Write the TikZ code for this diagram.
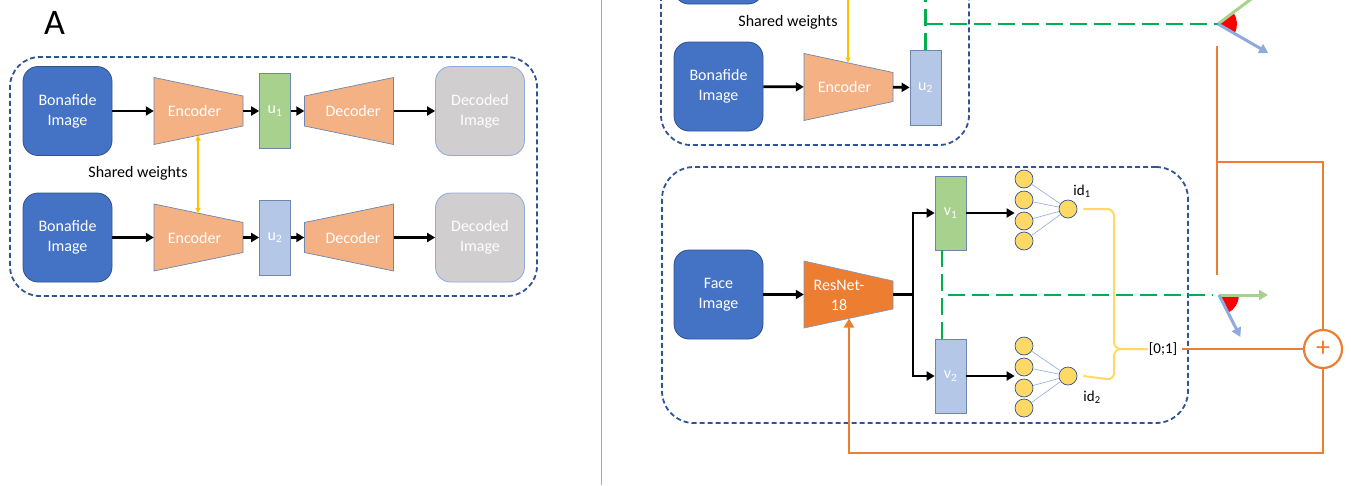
\documentclass[tikz,border=0pt]{standalone}
\usepackage{fontspec}
\setmainfont{Carlito}
\usetikzlibrary{arrows.meta,calc}
\definecolor{dblue}{HTML}{4472C4}
\definecolor{bord}{HTML}{2F528F}
\definecolor{dashb}{HTML}{2F5597}
\definecolor{lorange}{HTML}{F4B183}
\definecolor{orng}{HTML}{ED7D31}
\definecolor{lgreen}{HTML}{A9D18E}
\definecolor{lblue}{HTML}{B4C7E7}
\definecolor{mblue}{HTML}{8FAADC}
\definecolor{gry}{HTML}{D0CECE}
\definecolor{yel}{HTML}{FFC000}
\definecolor{lyel}{HTML}{FFD966}
\definecolor{grn}{HTML}{00B050}
\newcommand\trapR[6]{% name, center, fill, inset, text, text shift (tall left)
  \path[trapline,fill=#3] ($#2+(-44.5,-33.5)$) -- ($#2+(44.5,-33.5+#4)$) -- ($#2+(44.5,33.5-#4)$) -- ($#2+(-44.5,33.5)$) -- cycle;
  \node[trapnode] (#1) at #2 {};
  \node[trapnode,minimum width=0pt,minimum height=0pt] at ($#2+(#6,0)$) {#5};}
\newcommand\trapL[6]{% tall right
  \path[trapline,fill=#3] ($#2+(-44.5,-33.5+#4)$) -- ($#2+(44.5,-33.5)$) -- ($#2+(44.5,33.5)$) -- ($#2+(-44.5,33.5-#4)$) -- cycle;
  \node[trapnode] (#1) at #2 {};
  \node[trapnode,minimum width=0pt,minimum height=0pt] at ($#2+(#6,0)$) {#5};}
\begin{document}
\begin{tikzpicture}[x=1pt,y=-1pt,
  txt/.style={font=\fontsize{16}{20}\selectfont},
  imgbox/.style={txt,draw=bord,line width=0.8pt,fill=dblue,rounded corners=15pt,minimum width=89pt,minimum height=89pt,text=white,align=center,inner sep=0pt},
  decbox/.style={imgbox,fill=gry,draw=mblue},
  vecbox/.style={txt,draw=bord!70,line width=0.7pt,minimum width=31pt,minimum height=75pt,inner sep=0pt,text=white},
  trapnode/.style={txt,minimum width=89pt,minimum height=67pt,inner sep=0pt,text=white,align=center},
  trapline/.style={draw=bord!70,line width=0.7pt},
  blkarrow/.style={draw=black,line width=2.8pt,-{Triangle[length=8pt,width=9pt]}},
  blkline/.style={draw=black,line width=2.8pt},
  dashbox/.style={draw=dashb,line width=1.8pt,dash pattern=on 5pt off 3pt,rounded corners=30pt,inner sep=0pt},
  neuron/.style={circle,draw=bord,fill=lyel,line width=0.7pt,minimum size=18pt,inner sep=0pt},
  yelarrow/.style={draw=yel,line width=1.3pt},
  gdash/.style={draw=grn,line width=2.5pt,dash pattern=on 17pt off 7pt},
  orl/.style={draw=orng,line width=2.8pt},
  lab/.style={font=\fontsize{15}{18}\selectfont,inner sep=1pt}
]
\useasboundingbox (0,0) rectangle (1351,485);
\clip (0,0) rectangle (1351,485);

% ---------------- Panel A ----------------
\node (lblA) at (54.5,22.5) {\fontsize{36}{36}\selectfont A};
\node[dashbox,minimum width=527pt,minimum height=239pt] (boxA) at (273.5,176.5) {};

\node[imgbox] (bon1) at (67.5,111) {Bonafide\\Image};
\trapR{enc1}{(198.5,111)}{lorange}{18.5}{Encoder}{-4}
\node[vecbox,fill=lgreen] (u1) at (275,111) {u\textsubscript{1}};
\trapL{dec1}{(349,111)}{lorange}{18.5}{Decoder}{4}
\node[decbox] (decd1) at (480,111) {Decoded\\Image};

\node[imgbox] (bon2) at (67.5,237.5) {Bonafide\\Image};
\trapR{enc2}{(198.5,237.5)}{lorange}{18.5}{Encoder}{-4}
\node[vecbox,fill=lblue] (u2) at (275,237.5) {u\textsubscript{2}};
\trapL{dec2}{(349,237.5)}{lorange}{18.5}{Decoder}{4}
\node[decbox] (decd2) at (480,237.5) {Decoded\\Image};

\foreach \a/\b in {bon1/enc1,enc1/u1,u1/dec1,dec1/decd1,bon2/enc2,enc2/u2,u2/dec2,dec2/decd2}
  \draw[blkarrow] (\a) -- (\b);

\coordinate (sw1) at (198,135.5);
\coordinate (sw2) at (198,213);
\draw[yelarrow,{Triangle[length=5pt,width=5pt]}-{Triangle[length=5pt,width=5pt]}] (sw1) -- (sw2);
\node[txt,text=black] (swA) at (138,173) {Shared weights};

% divider
\coordinate (divT) at (601.5,0);
\coordinate (divB) at (601.5,485);
\draw[mblue,line width=1pt] (divT) -- (divB);

% ---------------- Panel B top (cut) ----------------
\node[dashbox,minimum width=308pt,minimum height=300pt] (boxB) at (815,-5) {};
\node[imgbox] (bon0) at (718.5,-40.5) {};
\node[imgbox] (bon3) at (718.5,86.5) {Bonafide\\Image};
\trapR{enc3}{(848.5,87)}{lorange}{19}{Encoder}{-4}
\node[vecbox,fill=lblue] (u3) at (925.5,87.5) {u\textsubscript{2}};
\draw[blkarrow] (bon3) -- (enc3);
\draw[blkarrow] (enc3) -- (u3);
\node[txt] (swB) at (788,22) {Shared weights};
\coordinate (ywT) at (848,-10);
\coordinate (ywB) at (848,62.5);
\draw[yelarrow,-{Triangle[length=5pt,width=5pt]}] (ywT) -- (ywB);

\coordinate (gTop) at (925.5,-10);
\coordinate (gJ) at (925.5,24);
\coordinate (V1) at (1218,24);
\draw[gdash] (u3.north) -- (gTop);
\draw[gdash] (gJ) -- (V1);
\fill[red] (V1) -- ++(-30:19pt) arc[start angle=-30,end angle=37,radius=19pt] -- cycle;
\draw[lgreen,line width=3pt] (V1) -- ++(37:60pt) coordinate (gEnd1);
\draw[mblue,line width=3pt,-{Triangle[length=9pt,width=10pt]}] (V1) -- ++(-30:58pt) coordinate (bEnd1);

% ---------------- Panel B bottom ----------------
\node[dashbox,rounded corners=32pt,minimum width=526pt,minimum height=256pt] (boxC) at (925,295) {};
\node[imgbox] (face) at (718.5,294.5) {Face\\Image};
\path[trapline,draw=bord!60,fill=orng] (804,261) -- (893,281) -- (893,309) -- (804,328) -- cycle;
\node[trapnode] (res) at (848.5,294.5) {};
\node[trapnode,minimum width=0pt,minimum height=0pt] (restxt) at (839,295) {ResNet-\\18};
\draw[blkarrow] (face) -- (res);

\node[vecbox,fill=lgreen,minimum height=74pt] (v1) at (950.5,213) {v\textsubscript{1}};
\node[vecbox,fill=lblue,minimum height=74pt] (v2) at (950.5,376) {v\textsubscript{2}};
\coordinate (br) at (913,294.5);
\draw[blkline] (res.east) -- (br);
\draw[blkarrow] (br) |- (v1.west);
\draw[blkarrow] (br) |- (v2.west);

\foreach \i/\y in {1/179,2/200,3/221,4/241} \node[neuron] (na\i) at (1024,\y) {};
\foreach \i/\y in {1/346,2/367,3/388,4/408} \node[neuron] (nb\i) at (1024,\y) {};
\node[neuron] (o1) at (1068,209) {};
\node[neuron] (o2) at (1068,376) {};
\foreach \i in {1,...,4} {
  \draw[mblue,line width=0.6pt] (na\i) -- (o1);
  \draw[mblue,line width=0.6pt] (nb\i) -- (o2);
}
\draw[blkarrow] (v1.east) -- (v1.east -| na1.west);
\draw[blkarrow] (v2.east) -- (v2.east -| nb1.west);
\node[lab] (id1) at (1082,191) {id\textsubscript{1}};
\node[lab] (id2) at (1092,397) {id\textsubscript{2}};
\node[lab] (l01) at (1163,349) {[0;1]};

\coordinate (brx1) at (1114,209);
\coordinate (brx2) at (1114,380);
\coordinate (brm) at (1114,349);
\draw[lyel,line width=2pt,rounded corners=7pt] ([xshift=6pt]o1.east) -- (brx1) -- (brm) -- (l01.west);
\draw[lyel,line width=2pt,rounded corners=7pt] ([xshift=6pt]o2.east) -- (brx2) -- (brm) -- (l01.west);

\coordinate (gv1) at (942,250);
\coordinate (gv2) at (942,339);
\coordinate (gh1) at (948,295);
\coordinate (gh2) at (1213,295);
\coordinate (V2) at (1219,295);
\draw[gdash] (gv1) -- (gv2);
\draw[gdash] (gh1) -- (gh2);
\fill[red] (V2) -- ++(-63:20pt) arc[start angle=-63,end angle=0,radius=20pt] -- cycle;
\draw[lgreen,line width=3pt,-{Triangle[length=9pt,width=10pt]}] (V2) -- ++(0:49pt) coordinate (gEnd2);
\draw[mblue,line width=3pt,-{Triangle[length=9pt,width=10pt]}] (V2) -- ++(-63:47pt) coordinate (bEnd2);

% ---------------- orange ----------------
\node[circle,draw=orng,line width=2.2pt,minimum size=38pt,inner sep=0pt,text=orng,font=\fontsize{28}{28}\selectfont] (plus) at (1323,349) {+};
\draw[orl] (l01.east) ++(4pt,0) -- (plus.west);
\coordinate (fbturn) at (849,453);
\coordinate (resin) at (849,318.5);
\draw[orl,-{Triangle[length=9pt,width=10pt]}] (plus.south) |- (fbturn) -- (resin);
\coordinate (oTop) at (1217,46);
\coordinate (oBot) at (1217,275);
\coordinate (oJ) at (1217,162);
\draw[orl] (oTop) -- (oBot);
\draw[orl] (plus.north) |- (oJ);
\end{tikzpicture}
\end{document}
